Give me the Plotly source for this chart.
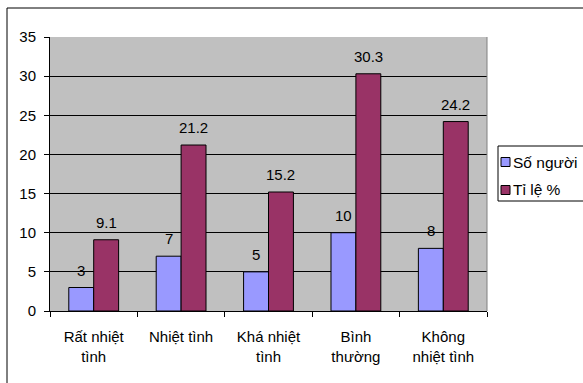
import plotly.graph_objects as go

categories = ["Rất nhiệt<br>tình", "Nhiệt tình", "Khá nhiệt<br>tình", "Bình<br>thường", "Không<br>nhiệt tình"]
so_nguoi = [3, 7, 5, 10, 8]
ti_le = [9.1, 21.2, 15.2, 30.3, 24.2]
series_names = ["Số người", "Tỉ lệ %"]
series_colors = ["#9999FF", "#993366"]
y_ticks = [0, 5, 10, 15, 20, 25, 30, 35]

FONT = "Arial, Liberation Sans, sans-serif"
FS = 15

# plot area geometry in pixels
L, R, T, B = 50, 487, 37, 311
W, H = 583, 383
PW, PH = R - L, B - T


def px_x(x):
    return (x - L) / PW


def px_y(y):
    return (B - y) / PH


fig = go.Figure()
for name, vals, color in zip(series_names, [so_nguoi, ti_le], series_colors):
    fig.add_trace(go.Bar(
        x=categories, y=vals, name=name,
        marker=dict(color=color, line=dict(color="black", width=1)),
        showlegend=False,
    ))

# value labels above each bar
bar_w = PW / len(categories) * 0.57 / 2
annotations = []
for i, (vals, shift) in enumerate([(so_nguoi, -bar_w / 2), (ti_le, bar_w / 2)]):
    for c, v in zip(categories, vals):
        annotations.append(dict(
            x=c, y=v, xref="x", yref="y", text=str(v), showarrow=False,
            xshift=shift, yshift=7, yanchor="bottom", xanchor="center",
            font=dict(family=FONT, size=FS, color="black"),
        ))

# chart frame and hand-drawn legend box
shapes = [
    dict(type="rect", xref="paper", yref="paper",
         x0=px_x(7), x1=px_x(610), y0=px_y(410), y1=px_y(8),
         line=dict(color="black", width=1), layer="below"),
    dict(type="line", xref="paper", yref="paper", x0=1, x1=1, y0=0, y1=1,
         line=dict(color="#808080", width=1)),
    dict(type="rect", xref="paper", yref="paper",
         x0=px_x(498), x1=px_x(610), y0=px_y(201), y1=px_y(146),
         line=dict(color="black", width=1), fillcolor="white"),
]
for name, color, cy in zip(series_names, series_colors, [162, 190]):
    shapes.append(dict(type="rect", xref="paper", yref="paper",
                       x0=px_x(501), x1=px_x(510), y0=px_y(cy + 4.5), y1=px_y(cy - 4.5),
                       line=dict(color="black", width=1), fillcolor=color))
    annotations.append(dict(x=px_x(511), y=px_y(cy), xref="paper", yref="paper",
                            text=name, showarrow=False, xanchor="left", yanchor="middle",
                            font=dict(family=FONT, size=FS + 0.5, color="black")))

fig.update_layout(
    width=W, height=H,
    margin=dict(l=L, r=W - R, t=T, b=H - B, autoexpand=False),
    paper_bgcolor="white", plot_bgcolor="#C0C0C0",
    font=dict(family=FONT, size=FS, color="black"),
    barmode="group", bargap=0.43, bargroupgap=0,
    showlegend=False,
    xaxis=dict(
        type="category", tickson="boundaries", ticks="outside", ticklen=5,
        tickcolor="black", showline=True, linecolor="black", linewidth=1,
        showgrid=False, tickfont=dict(size=FS), ticklabelstandoff=12,
    ),
    yaxis=dict(
        range=[0, 35], tickvals=y_ticks, ticks="outside", ticklen=5,
        tickcolor="black", showline=True, linecolor="black", linewidth=1,
        showgrid=True, gridcolor="black", gridwidth=1, zeroline=False,
        tickfont=dict(size=FS), ticklabelstandoff=5,
    ),
    shapes=shapes,
    annotations=annotations,
)

fig.write_html("out.html")
